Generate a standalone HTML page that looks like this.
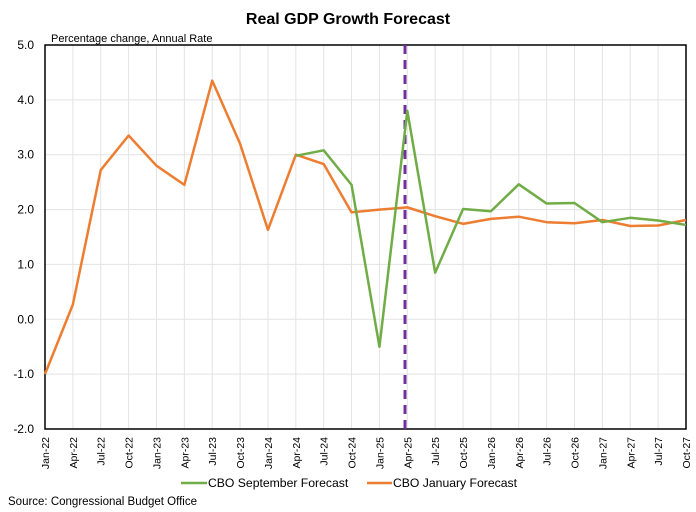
<!DOCTYPE html>
<html><head><style>body{margin:0;background:#fff}svg{display:block}</style></head><body>
<svg width="696" height="512" xmlns="http://www.w3.org/2000/svg" font-family="Liberation Sans, sans-serif">
<text x="348" y="24" text-anchor="middle" font-size="16" font-weight="bold" fill="#000">Real GDP Growth Forecast</text>
<text x="51" y="42" font-size="11" fill="#000">Percentage change, Annual Rate</text>
<g id="grid" stroke="#e3e3e3" stroke-width="1"></g>
<g id="lab" fill="#000"></g>
<rect x="45" y="45" width="641" height="384" fill="none" stroke="#000" stroke-width="1.5"/>
<line x1="405" y1="45" x2="405" y2="429" stroke="#7030a0" stroke-width="3" stroke-dasharray="9,6"/>
<polyline id="or" fill="none" stroke="#ed7d31" stroke-width="2.5" stroke-linejoin="round"/>
<polyline id="gr" fill="none" stroke="#70ad47" stroke-width="2.5" stroke-linejoin="round"/>
<line x1="181" y1="483" x2="207" y2="483" stroke="#70ad47" stroke-width="2.5"/>
<text x="208" y="487" font-size="12.2">CBO September Forecast</text>
<line x1="367" y1="483" x2="392" y2="483" stroke="#ed7d31" stroke-width="2.5"/>
<text x="393" y="487" font-size="12.2">CBO January Forecast</text>
<text x="8" y="505" font-size="11.5">Source: Congressional Budget Office</text>
</svg>
<script>
const ns="http://www.w3.org/2000/svg";
const X=i=>45+i*641/23, Y=v=>45+(5-v)*384/7;
const g=document.getElementById('grid'),l=document.getElementById('lab');
const m=["Jan","Apr","Jul","Oct"];
for(let i=0;i<24;i++){const x=X(i);
 if(i>0&&i<23){const e=document.createElementNS(ns,'line');e.setAttribute('x1',x);e.setAttribute('x2',x);e.setAttribute('y1',45);e.setAttribute('y2',429);g.appendChild(e);}
 const t=document.createElementNS(ns,'text');t.textContent=m[i%4]+"-"+(22+Math.floor(i/4));t.setAttribute('font-size','10.5');
 t.setAttribute('transform',`translate(${x+4},437) rotate(-90)`);t.setAttribute('text-anchor','end');l.appendChild(t);}
for(let v=-2;v<=5;v++){const y=Y(v);
 if(v>-2&&v<5){const e=document.createElementNS(ns,'line');e.setAttribute('x1',45);e.setAttribute('x2',686);e.setAttribute('y1',y);e.setAttribute('y2',y);g.appendChild(e);}
 const t=document.createElementNS(ns,'text');t.textContent=v.toFixed(1);t.setAttribute('font-size','12');t.setAttribute('x',34);t.setAttribute('y',y+4);t.setAttribute('text-anchor','end');l.appendChild(t);}
const o=[-1.0,0.27,2.72,3.35,2.8,2.45,4.35,3.2,1.63,3.0,2.83,1.95,2.0,2.04,1.88,1.74,1.83,1.87,1.77,1.75,1.81,1.70,1.71,1.81];
const gr=[2.98,3.08,2.45,-0.5,3.8,0.85,2.01,1.97,2.46,2.11,2.12,1.77,1.85,1.80,1.72];
document.getElementById('or').setAttribute('points',o.map((v,i)=>X(i)+","+Y(v)).join(" "));
document.getElementById('gr').setAttribute('points',gr.map((v,i)=>X(i+9)+","+Y(v)).join(" "));
</script>
</body></html>
